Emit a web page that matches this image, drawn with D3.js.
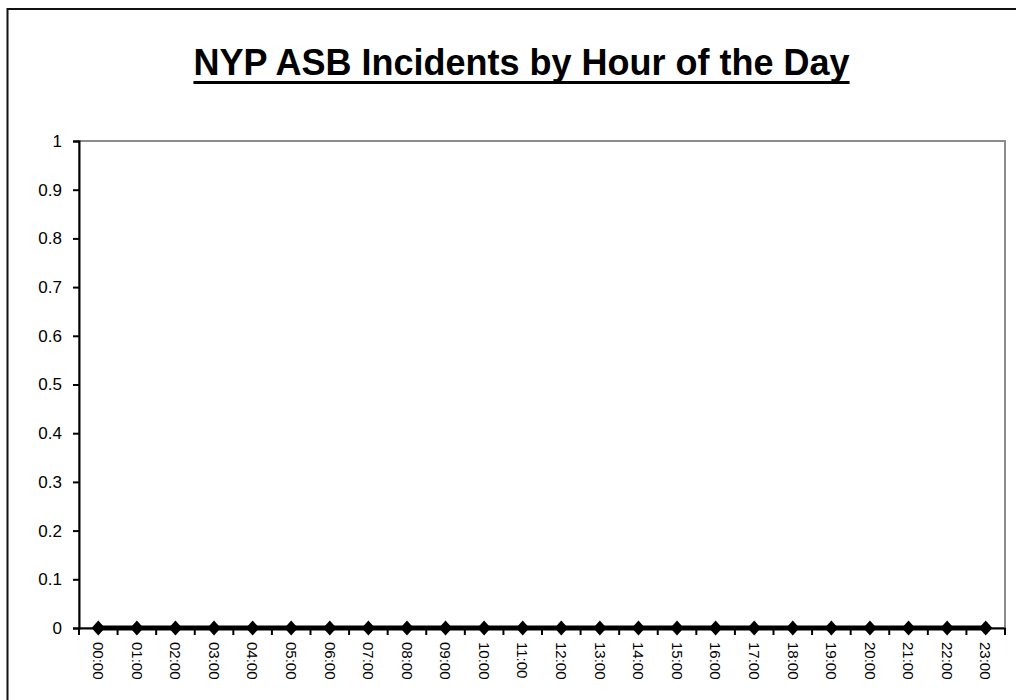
<!DOCTYPE html>
<html>
<head>
<meta charset="utf-8">
<script src="https://cdn.jsdelivr.net/npm/d3@7"></script>
<style>
  body { margin: 0; background: #fff; }
  svg { display: block; font-family: "Liberation Sans", Arial, sans-serif; }
</style>
</head>
<body>
<div id="chart"></div>
<script>
// Data
const hours = ["00:00", "01:00", "02:00", "03:00", "04:00", "05:00", "06:00", "07:00",
    "08:00", "09:00", "10:00", "11:00", "12:00", "13:00", "14:00", "15:00",
    "16:00", "17:00", "18:00", "19:00", "20:00", "21:00", "22:00", "23:00"];
const incidents = [0, 0, 0, 0, 0, 0, 0, 0, 0, 0, 0, 0, 0, 0, 0, 0, 0, 0, 0, 0, 0, 0, 0, 0];
const yTicks = [0, 0.1, 0.2, 0.3, 0.4, 0.5, 0.6, 0.7, 0.8, 0.9, 1];
const title = "NYP ASB Incidents by Hour of the Day";

const width = 1016;
const height = 700;
const plot = { left: 79, right: 1005, top: 141, bottom: 628 };

const svg = d3.select("#chart")
    .append("svg")
    .attr("width", width)
    .attr("height", height);

// outer chart frame (runs off the right and bottom of the picture)
svg.append("rect")
    .attr("x", 7.5)
    .attr("y", 9)
    .attr("width", width)
    .attr("height", height)
    .attr("fill", "none")
    .attr("stroke", "#111")
    .attr("stroke-width", 2);

// Title
const titleText = svg.append("text")
    .attr("x", 521.5)
    .attr("y", 75)
    .attr("text-anchor", "middle")
    .style("font-size", "36px")
    .style("font-weight", "bold")
    .style("fill", "#000")
    .text(title);

const titleW = titleText.node().getComputedTextLength();
svg.append("line")
    .attr("x1", 521.5 - titleW / 2)
    .attr("x2", 521.5 + titleW / 2)
    .attr("y1", 82.5)
    .attr("y2", 82.5)
    .attr("stroke", "#000")
    .attr("stroke-width", 3);

// Scales
const x = d3.scaleBand()
    .domain(hours)
    .range([plot.left, plot.right])
    .padding(0);

const y = d3.scaleLinear()
    .domain([0, 1])
    .range([plot.bottom, plot.top]);

// plot area border (top and right show; axes cover the others)
svg.append("rect")
    .attr("x", plot.left)
    .attr("y", plot.top)
    .attr("width", plot.right - plot.left)
    .attr("height", plot.bottom - plot.top)
    .attr("fill", "none")
    .attr("stroke", "#8c8c8c")
    .attr("stroke-width", 2);

// Y axis
const yAxis = svg.append("g")
    .attr("transform", `translate(${plot.left},0)`)
    .call(d3.axisLeft(y)
        .tickValues(yTicks)
        .tickFormat(d3.format("~g"))
        .tickSize(6)
        .tickPadding(11));

yAxis.select(".domain").attr("stroke", "#000").attr("stroke-width", 2);
yAxis.selectAll(".tick line").attr("stroke", "#000").attr("stroke-width", 2);
yAxis.selectAll(".tick text")
    .style("font-size", "17px")
    .style("fill", "#000");

// X axis: labels at category centres
const xAxis = svg.append("g")
    .attr("transform", `translate(0,${plot.bottom})`)
    .call(d3.axisBottom(x).tickSize(0));

xAxis.select(".domain").attr("stroke", "#000").attr("stroke-width", 2);
xAxis.selectAll(".tick text")
    .attr("transform", "rotate(90)")
    .attr("x", 14)
    .attr("y", 0)
    .attr("dy", "0.35em")
    .style("text-anchor", "start")
    .style("font-size", "15px")
    .style("fill", "#000");

// X tick marks at category boundaries
const boundaries = hours.map(h => x(h)).concat([x.range()[1]]);
svg.append("g")
    .selectAll("line")
    .data(boundaries)
    .enter()
    .append("line")
    .attr("x1", d => d)
    .attr("x2", d => d)
    .attr("y1", plot.bottom)
    .attr("y2", plot.bottom + 7)
    .attr("stroke", "#000")
    .attr("stroke-width", 2);

// Series line
const points = hours.map((h, i) => ({ hour: h, value: incidents[i] }));

const line = d3.line()
    .x(d => x(d.hour) + x.bandwidth() / 2)
    .y(d => y(d.value));

svg.append("path")
    .datum(points)
    .attr("d", line)
    .attr("fill", "none")
    .attr("stroke", "#000")
    .attr("stroke-width", 5);

// Diamond markers
const diamond = d3.symbol().type(d3.symbolDiamond2).size(115);

svg.append("g")
    .selectAll("path")
    .data(points)
    .enter()
    .append("path")
    .attr("d", diamond)
    .attr("transform", d => `translate(${x(d.hour) + x.bandwidth() / 2},${y(d.value)}) scale(1,1.1)`)
    .attr("fill", "#000");
</script>
</body>
</html>
